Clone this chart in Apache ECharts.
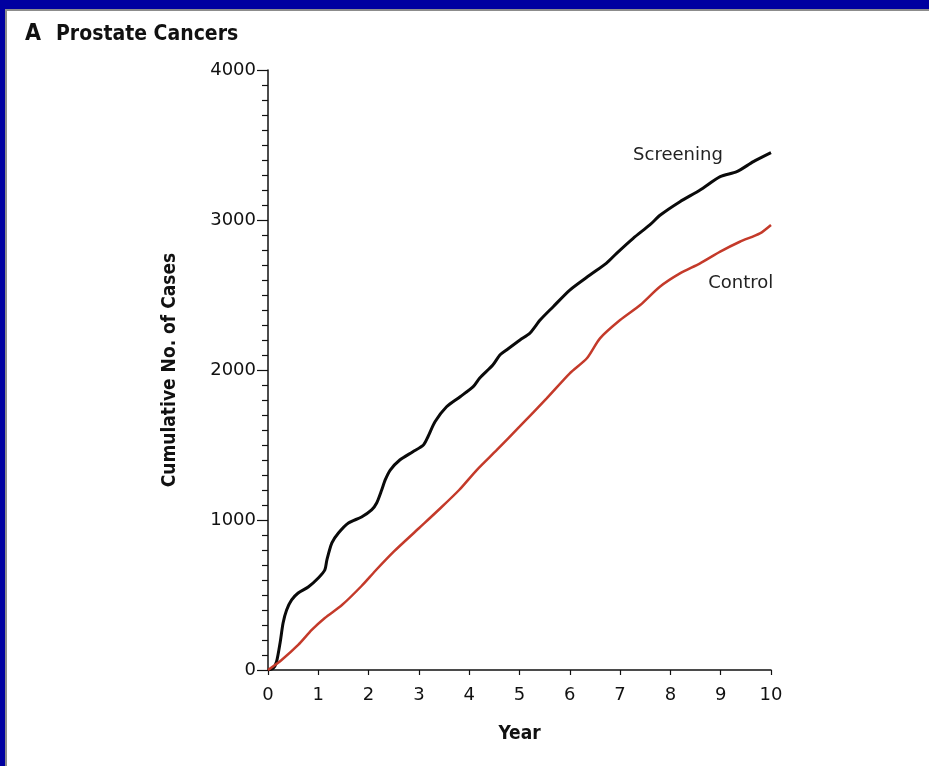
<!DOCTYPE html>
<html>
<head>
<meta charset="utf-8">
<script src="https://cdn.jsdelivr.net/npm/echarts@6/dist/echarts.min.js"></script>
<style>
  html, body { margin: 0; padding: 0; width: 929px; height: 766px; overflow: hidden; background: #0000a0; }
  #panel { position: absolute; left: 5px; top: 9px; width: 924px; height: 757px; background: #fff;
           border-left: 2px solid #8c8c8c; border-top: 2px solid #8c8c8c; box-sizing: border-box; }
  #chart { position: absolute; left: 0; top: 0; width: 929px; height: 766px; }
</style>
</head>
<body>
<div id="panel"></div>
<div id="chart"></div>
<script>
// Cumulative prostate cancer cases by year of follow-up
const screeningYears = [0, 0.1, 0.17, 0.24, 0.3, 0.37, 0.47, 0.6, 0.8, 1.0, 1.13, 1.17, 1.27, 1.4, 1.6, 1.86, 2.06, 2.16, 2.26, 2.33, 2.43, 2.62, 2.88, 3.09, 3.18, 3.32, 3.55, 3.82, 4.08, 4.21, 4.47, 4.61, 4.74, 5.01, 5.21, 5.41, 5.67, 6.0, 6.4, 6.73, 6.93, 7.26, 7.59, 7.8, 8.19, 8.59, 8.99, 9.32, 9.65, 10.0];
const screeningCases = [0, 10, 55, 180, 313, 400, 467, 513, 553, 613, 667, 733, 847, 913, 980, 1020, 1067, 1113, 1200, 1267, 1333, 1400, 1455, 1500, 1555, 1655, 1755, 1822, 1889, 1947, 2033, 2100, 2133, 2200, 2247, 2333, 2422, 2533, 2633, 2713, 2778, 2878, 2967, 3033, 3122, 3200, 3289, 3322, 3389, 3449];

const controlYears = [0, 0.27, 0.6, 0.87, 1.13, 1.47, 1.86, 2.13, 2.5, 3.0, 3.4, 3.8, 4.15, 4.55, 5.0, 5.54, 6.0, 6.34, 6.6, 7.0, 7.4, 7.79, 8.19, 8.59, 8.99, 9.38, 9.78, 10.0];
const controlCases = [0, 67, 167, 267, 347, 433, 560, 660, 789, 945, 1070, 1200, 1333, 1467, 1622, 1811, 1978, 2078, 2211, 2333, 2433, 2555, 2644, 2711, 2789, 2855, 2911, 2967];

const xTicks = [0, 1, 2, 3, 4, 5, 6, 7, 8, 9, 10];
const yTicks = [0, 1000, 2000, 3000, 4000];

// Where each curve's name is written, in data units
const screeningLabelAt = [8.15, 3433];
const controlLabelAt = [9.4, 2580];

const pair = (xs, ys) => xs.map((x, i) => [x, ys[i]]);

const chart = echarts.init(document.getElementById('chart'), null, { renderer: 'canvas' });

const tickFont = { fontFamily: 'DejaVu Sans', fontSize: 18, color: '#111' };
const nameFont = { fontFamily: 'DejaVu Sans Condensed', fontWeight: 'bold', fontSize: 19, color: '#111' };
const curveLabelFont = { fontFamily: 'DejaVu Sans', fontSize: 18, color: '#222' };

chart.setOption({
  backgroundColor: 'transparent',
  animation: false,
  title: {
    left: 20, top: 18,
    text: '{a|A}   {b|Prostate Cancers}',
    textStyle: {
      rich: {
        a: { fontFamily: 'DejaVu Sans Condensed', fontWeight: 'bold', fontSize: 23, color: '#111' },
        b: { fontFamily: 'DejaVu Sans Condensed', fontWeight: 'bold', fontSize: 21, color: '#111' }
      }
    }
  },
  grid: { left: 268, top: 70, width: 503, height: 600 },
  xAxis: {
    type: 'value', min: xTicks[0], max: xTicks[xTicks.length - 1], interval: 1,
    name: 'Year', nameLocation: 'middle', nameGap: 55, nameTextStyle: nameFont,
    axisLine: { lineStyle: { color: '#111', width: 1.5 } },
    axisTick: { length: 5, lineStyle: { color: '#111', width: 1.2 } },
    axisLabel: Object.assign({ margin: 16 }, tickFont),
    splitLine: { show: false }
  },
  yAxis: {
    type: 'value', min: yTicks[0], max: yTicks[yTicks.length - 1], interval: 1000,
    name: 'Cumulative No. of Cases', nameLocation: 'middle', nameGap: 88, nameTextStyle: nameFont,
    axisLine: { show: true, lineStyle: { color: '#111', width: 1.5 } },
    axisTick: { show: true, length: 11, lineStyle: { color: '#111', width: 1.2 } },
    minorTick: { show: true, splitNumber: 10, length: 6, lineStyle: { color: '#111', width: 1.2 } },
    axisLabel: Object.assign({ margin: 12, formatter: v => String(v) }, tickFont),
    splitLine: { show: false }
  },
  series: [
    {
      name: 'Screening', type: 'line', smooth: 0.25, showSymbol: false,
      data: pair(screeningYears, screeningCases),
      lineStyle: { color: '#0a0a0a', width: 3 },
      markPoint: {
        symbol: 'circle', symbolSize: 0,
        label: Object.assign({ show: true, position: 'inside', formatter: 'Screening' }, curveLabelFont),
        data: [{ coord: screeningLabelAt }]
      }
    },
    {
      name: 'Control', type: 'line', smooth: 0.25, showSymbol: false,
      data: pair(controlYears, controlCases),
      lineStyle: { color: '#c43a2a', width: 2.5 },
      markPoint: {
        symbol: 'circle', symbolSize: 0,
        label: Object.assign({ show: true, position: 'inside', formatter: 'Control' }, curveLabelFont),
        data: [{ coord: controlLabelAt }]
      }
    }
  ]
});
</script>
</body>
</html>
